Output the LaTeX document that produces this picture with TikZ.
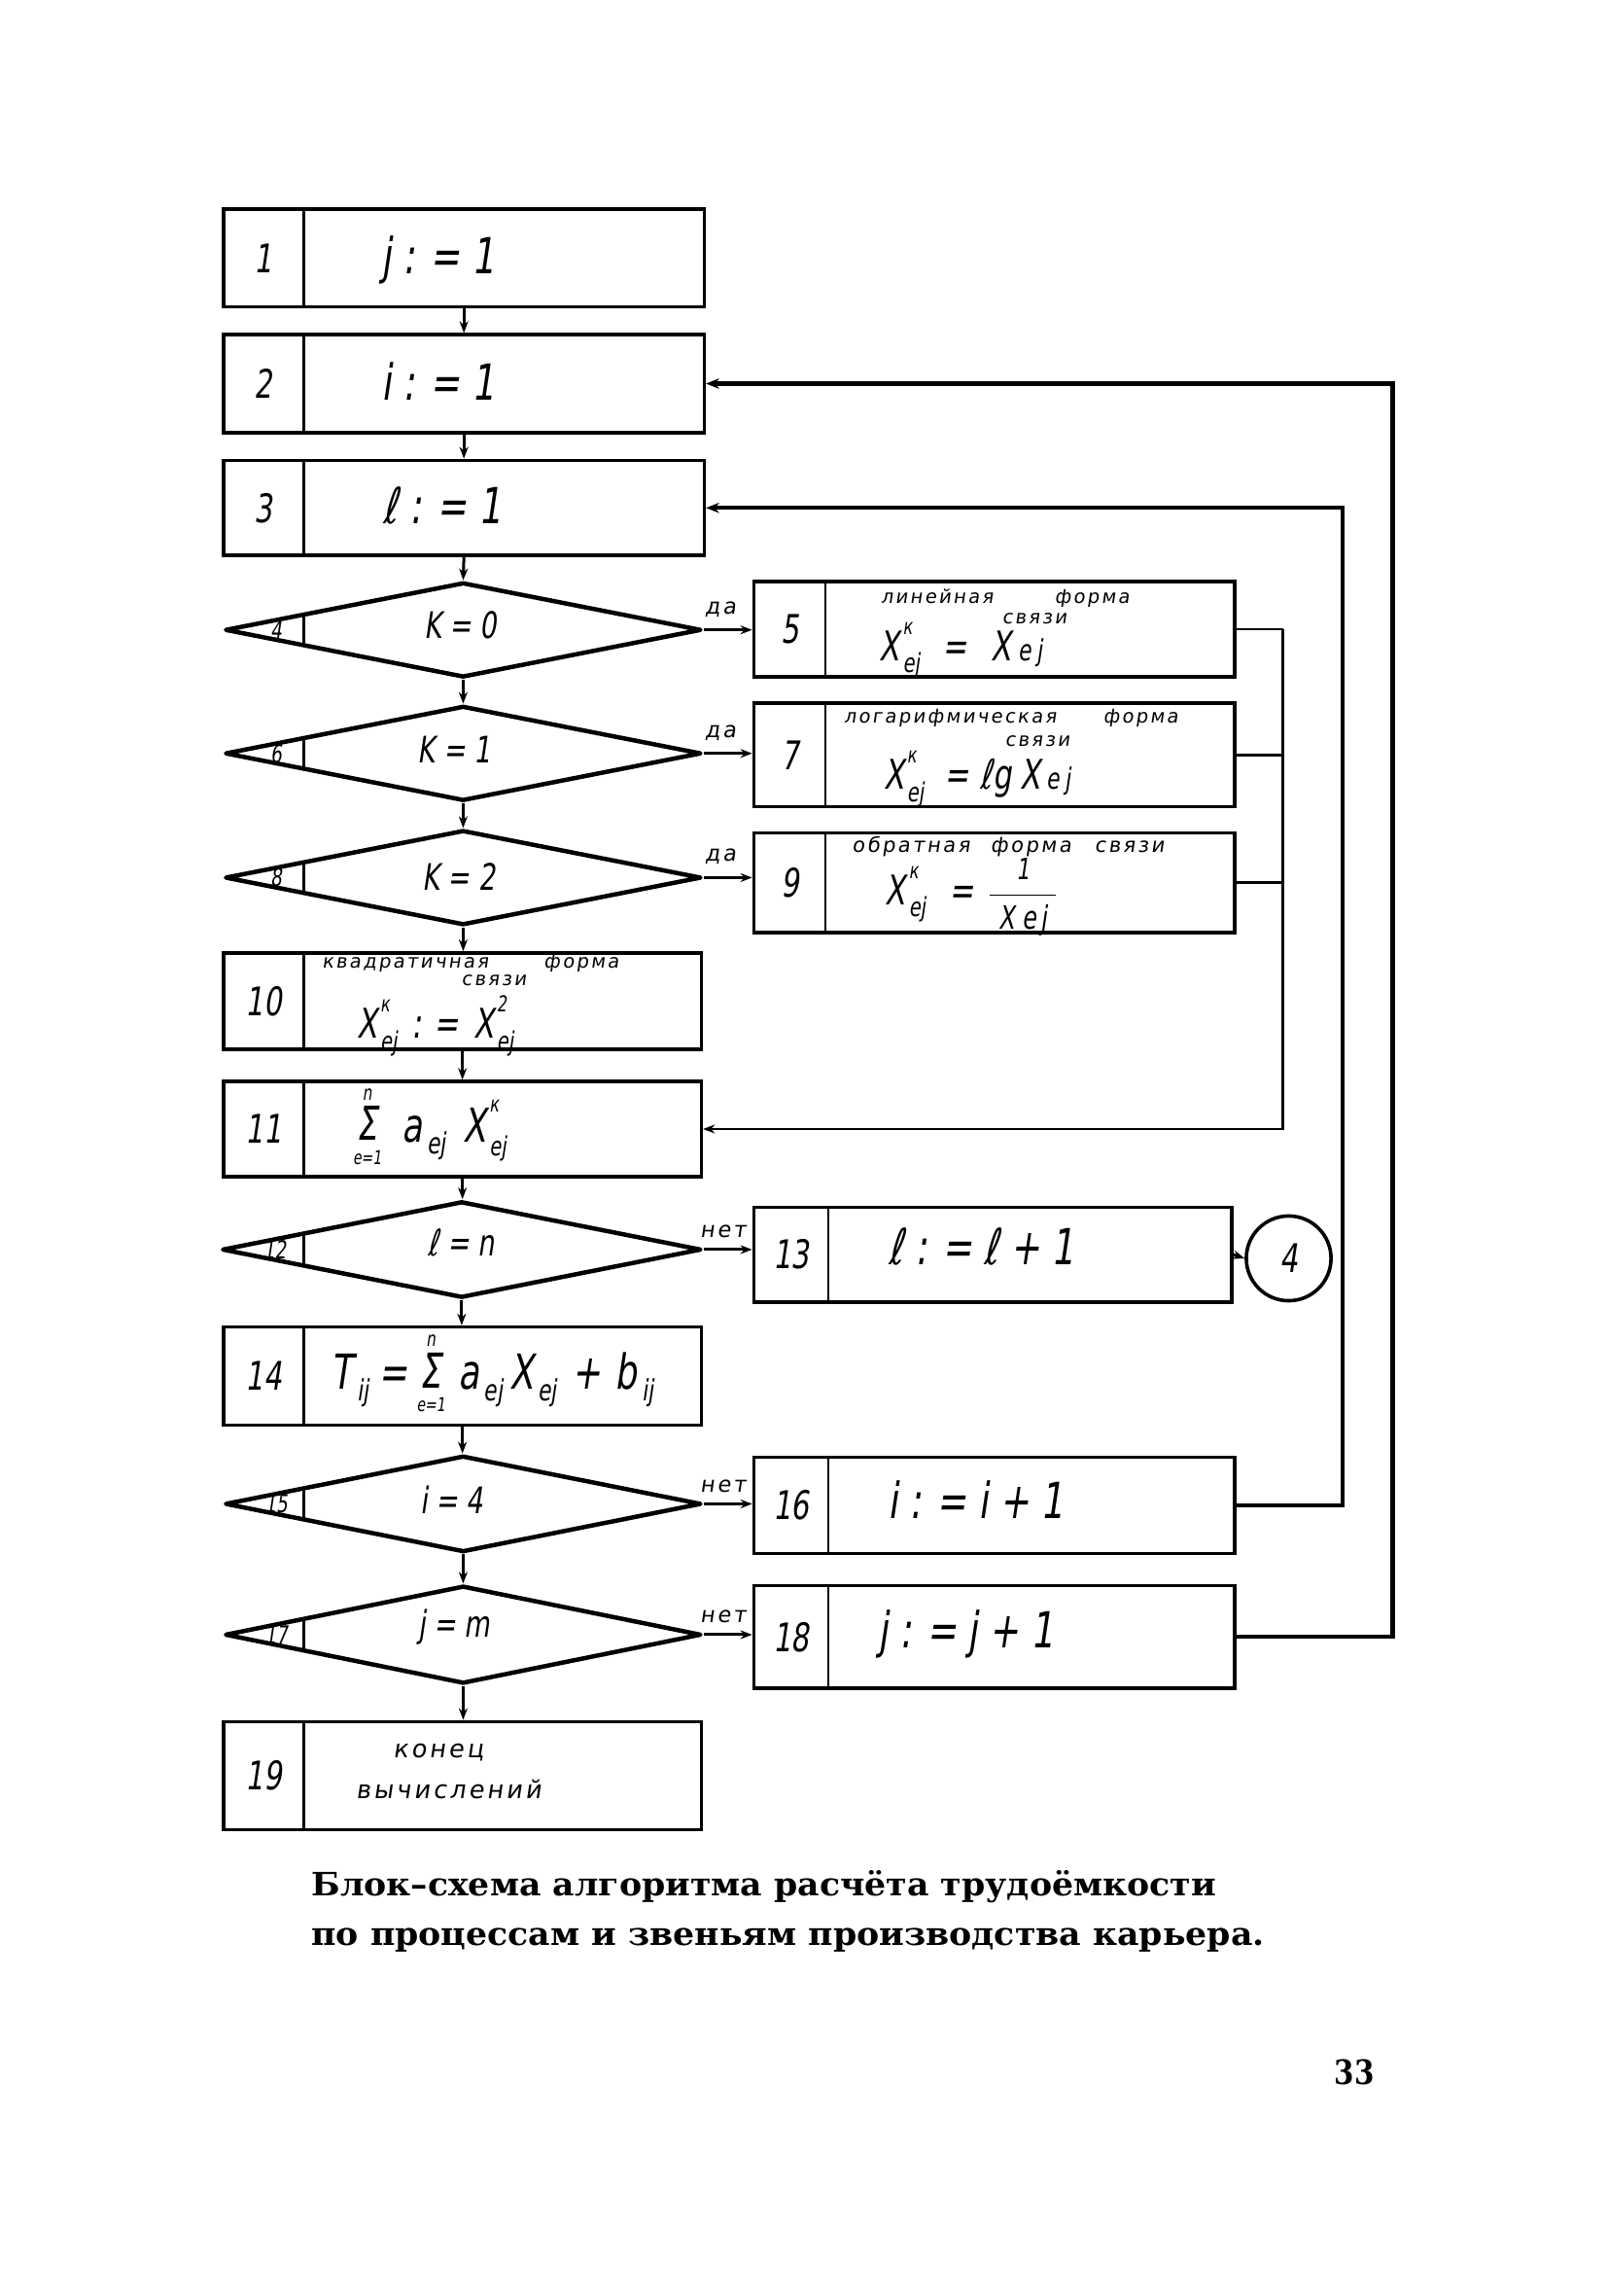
\documentclass[tikz,border=0pt]{standalone}
\usepackage{fontspec}
\usetikzlibrary{shapes.geometric,arrows.meta,calc}
\newfontfamily\hand[FakeStretch=0.72,FakeSlant=0.15]{DejaVu Sans}
\newfontfamily\handw[FakeSlant=0.15,LetterSpace=12]{DejaVu Sans}
\newfontfamily\capf[FakeStretch=1.05]{DejaVu Serif}
\newfontfamily\pgf[FakeStretch=0.85]{DejaVu Serif}
\newcommand\fsz[1]{\fontsize{#1}{#1}\selectfont}
% X with superscript above and subscript below, stacked apart
\newcommand\XS[3]{#1\kern2pt\rlap{\raisebox{0.64em}{\fsz{15}#2}}\raisebox{-0.3em}{\fsz{18}#3}}
\newcommand\SUM[2]{\raisebox{-0.48em}{\shortstack{{\fsz{14}#1}\\[1pt]Σ\\[4pt]{\fsz{13}#2}}}}
\newcommand\SB[1]{\kern3pt\raisebox{-0.25em}{\fsz{20}#1}}
\tikzset{
  blk/.style={draw, rectangle, line width=2.4pt, inner sep=0pt},
  dia/.style={draw, diamond, line width=3pt, line join=round, inner sep=0pt},
  dv/.style={line width=1.8pt},
  con/.style={line width=2pt, -{Stealth[length=8pt,width=6pt]}},
  lp/.style={line width=1.9pt},
  lpa/.style={line width=2.6pt, -{Stealth[length=9pt,width=7pt]}},
  num/.style={font=\hand\fsz{27}, inner sep=0pt},
  dnum/.style={font=\hand\fsz{17}, inner sep=0pt},
  txt/.style={font=\hand\fsz{34}, inner sep=0pt},
  dtxt/.style={font=\hand\fsz{25}, inner sep=0pt},
  ftxt/.style={font=\hand\fsz{28}, inner sep=0pt},
  sml/.style={font=\handw\fsz{13}, inner sep=0pt},
  lab/.style={font=\handw\fsz{15}, inner sep=0pt},
  capt/.style={font=\capf\bfseries\fsz{22}, inner sep=0pt, anchor=base west},
}
\newcommand\mkbox[7]{%
  \node[blk, minimum width={(#4-#2)*1pt}, minimum height={(#5-#3)*1pt}] (#1) at ({(#2+#4)/2},{(#3+#5)/2}) {};
  \draw[dv] (#6,#3) -- (#6,#5);
  \node[num] (#1n) at ({(#2+#6)/2},{(#3+#5)/2}) {#7};}
\newcommand\mkdia[7]{%
  \node[dia, minimum width={2*#4*1pt}, minimum height={2*#5*1pt}] (#1) at (#2,#3) {};
  \draw[dv] (#6,{#3-#5*(#6-#2+#4)/#4}) -- (#6,{#3+#5*(#6-#2+#4)/#4});
  \node[dnum] (#1n) at ({(#6+#2-#4)/2+8},#3) {#7};}
\begin{document}
\begin{tikzpicture}[x=1pt,y=-1pt]
\fill[white] (0,0) rectangle (1100,1571);
\useasboundingbox (0,0) rectangle (1100,1571);

% main column
\mkbox{B1}{153}{143}{482}{210}{208}{1}
\node[txt] (T1) at (300,178) {j : = 1};
\mkbox{B2}{153}{229}{482}{296}{208}{2}
\node[txt] (T2) at (300,261) {i : = 1};
\mkbox{B3}{153}{315}{482}{380}{208}{3}
\node[txt] (T3) at (303,346) {ℓ : = 1};

\mkdia{D4}{317}{431}{163}{32.5}{208}{4}
\node[dtxt] (T4) at (315,428) {K = 0};
\mkdia{D6}{317}{515.5}{163}{32.5}{208}{6}
\node[dtxt] (T6) at (311,513) {K = 1};
\mkdia{D8}{317}{600.5}{163}{32.5}{208}{8}
\node[dtxt] (T8) at (314,600) {K = 2};

\mkbox{B10}{153}{652}{480}{718}{208}{10}
\node[sml] (T10a) at (322,659) {квадратичная\hspace{38pt}форма};
\node[sml] (T10b) at (338,671) {связи};
\node[ftxt] (T10c) at (298,702) {\XS{X}{к}{ej}\hspace{10pt}: =\hspace{10pt}\XS{X}{2}{ej}};

\mkbox{B11}{153}{740}{480}{805}{208}{11}
\node[ftxt, font=\hand\fsz{32}] (T11) at (294,771) {\SUM{n}{e=1}\hspace{14pt}a\SB{ej}\hspace{12pt}\XS{X}{к}{ej}};

\mkdia{D12}{316}{855}{164}{33}{208}{12}
\node[dtxt] (T12) at (316,850) {ℓ = n};

\mkbox{B14}{153}{908}{480}{975}{208}{14}
\node[ftxt, font=\hand\fsz{33}] (T14) at (337,940) {T\SB{ij}\hspace{7pt}=\hspace{6pt}\SUM{n}{e=1}\hspace{9pt}a\SB{ej}\hspace{5pt}X\SB{ej}\hspace{10pt}+\hspace{10pt}b\SB{ij}};

\mkdia{D15}{317}{1029}{163}{33}{208}{15}
\node[dtxt] (T15) at (309,1026) {i = 4};
\mkdia{D17}{317}{1118.5}{163}{33.5}{208}{17}
\node[dtxt] (T17) at (311,1113) {j = m};

\mkbox{B19}{153}{1178}{480}{1252}{208}{19}
\node[sml, font=\handw\fsz{17}] (T19a) at (300,1199) {конец};
\node[sml, font=\handw\fsz{17}] (T19b) at (307,1224) {вычислений};

% right column
\mkbox{B5}{516}{398}{845}{463}{565}{5}
\node[sml] (T5a) at (688,409) {линейная\hspace{42pt}форма};
\node[sml] (T5b) at (708,423) {связи};
\node[ftxt] (T5c) at (658,445) {\XS{X}{к}{ej}\hspace{16pt}=\hspace{16pt}X\hspace{5pt}{\fsz{20}e\hspace{4pt}j}};

\mkbox{B7}{516}{481}{845}{552}{565}{7}
\node[sml] (T7a) at (692,491) {логарифмическая\hspace{32pt}форма};
\node[sml] (T7b) at (710,507) {связи};
\node[ftxt] (T7c) at (669,533) {\XS{X}{к}{ej}\hspace{14pt}=\hspace{8pt}ℓg\hspace{6pt}X\hspace{4pt}{\fsz{20}e\hspace{4pt}j}};

\mkbox{B9}{516}{570}{845}{638}{565}{9}
\node[sml, font=\handw\fsz{14}] (T9a) at (690,579) {обратная\hspace{14pt}форма\hspace{16pt}связи};
\node[ftxt] (T9c) at (665,614) {\XS{X}{к}{ej}\hspace{16pt}=\hspace{10pt}\ensuremath{\displaystyle\frac{\hbox{\fsz{20}1}}{\hbox{\fsz{22}\hspace{6pt}X\hspace{5pt}e\hspace{3pt}j\hspace{6pt}}}}};

\mkbox{B13}{516}{826}{843}{891}{567}{13}
\node[txt] (T13) at (672,853) {ℓ : = ℓ + 1};
\node[draw, circle, line width=2.4pt, minimum size=58pt, inner sep=0pt, font=\hand\fsz{27}] (C4) at (882,861) {4};

\mkbox{B16}{516}{997}{845}{1063}{567}{16}
\node[txt] (T16) at (668,1026) {i : = i + 1};
\mkbox{B18}{516}{1085}{845}{1155}{567}{18}
\node[txt] (T18) at (661,1118) {j : = j + 1};

% vertical connectors
\draw[con] (B1.south) -- (B2.north);
\draw[con] (B2.south) -- (B3.north);
\draw[con] (B3.south) -- (D4.north);
\draw[con] (D4.south) -- (D6.north);
\draw[con] (D6.south) -- (D8.north);
\draw[con] (D8.south) -- (D8.south |- B10.north);
\draw[con] (B10.south) -- (B11.north);
\draw[con] (B11.south) -- (B11.south |- D12.north);
\draw[con] (D12.south) -- (D12.south |- B14.north);
\draw[con] (B14.south) -- (B14.south |- D15.north);
\draw[con] (D15.south) -- (D17.north);
\draw[con] (D17.south) -- (D17.south |- B19.north);

% horizontal yes / no arrows
\draw[con] (D4.east) -- (D4.east -| B5.west) node[lab, pos=0.35, above=8pt] (L4) {да};
\draw[con] (D6.east) -- (D6.east -| B7.west) node[lab, pos=0.35, above=8pt] (L6) {да};
\draw[con] (D8.east) -- (D8.east -| B9.west) node[lab, pos=0.35, above=8pt] (L8) {да};
\draw[con] (D12.east) -- (D12.east -| B13.west) node[lab, pos=0.4, above=7pt] (L12) {нет};
\draw[con] (D15.east) -- (D15.east -| B16.west) node[lab, pos=0.4, above=7pt] (L15) {нет};
\draw[con] (D17.east) -- (D17.east -| B18.west) node[lab, pos=0.4, above=7pt] (L17) {нет};
\draw[con] (B13.east) -- (C4.west);

% return lines
\coordinate (bus) at (878,0);
\draw[lp] (B5.east) -- (B5.east -| bus);
\draw[lp] (B7.east) -- (B7.east -| bus);
\draw[lp] (B9.east) -- (B9.east -| bus);
\draw[lp, -{Stealth[length=8pt,width=6pt]}] (B5.east -| bus) -- (B11.east -| bus) -- (B11.east);
\coordinate (r1) at (919,0);
\draw[lpa] (B16.east) -- (B16.east -| r1) -- (B3.east -| r1) -- (B3.east);
\coordinate (r2) at (953,0);
\draw[lpa, line width=3pt] (B18.east) -- (B18.east -| r2) -- (B2.east -| r2) -- (B2.east);

% caption
\node[capt] (cap1) at (213,1297) {Блок–схема алгоритма расчёта трудоёмкости};
\node[capt] (cap2) at (213,1331) {по процессам и звеньям производства карьера.};
\node[font=\pgf\bfseries\fsz{23}, inner sep=0pt] (pg) at (927,1418) {33};
\end{tikzpicture}
\end{document}
